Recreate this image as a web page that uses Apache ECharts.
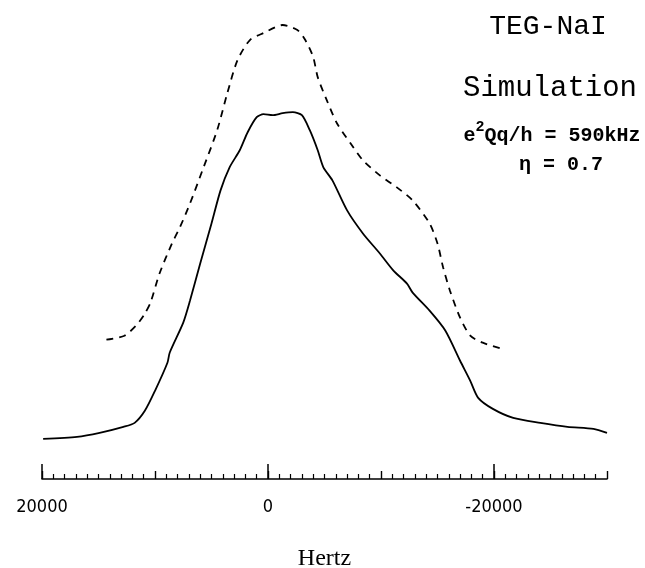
<!DOCTYPE html>
<html>
<head>
<meta charset="utf-8">
<script src="https://cdn.jsdelivr.net/npm/echarts@6/dist/echarts.min.js"></script>
<style>
  html, body { margin: 0; padding: 0; background: #fff; }
  #chart { width: 645px; height: 568px; }
</style>
</head>
<body>
<div id="chart"></div>
<script>
// Frequency offsets (Hz) and intensities (arbitrary units)
const solidHz = [19900, 16900, 14900, 12800, 11800, 10900, 10000, 8900, 8700, 7500, 6900, 6000, 5000, 4200, 3400, 2500, 1800, 1000, 400, -400, -1300, -2200, -3000, -3700, -4400, -4900, -5700, -7000, -8400, -9900, -11100, -12300, -12800, -14300, -15700, -17000, -17900, -18600, -19900, -21700, -24100, -26500, -28800, -30000];
const solidI  = [40, 42, 46, 52, 56, 68, 88, 116, 126, 156, 178, 215, 255, 288, 311, 328, 346, 361, 364, 363, 365, 366, 363, 348, 328, 311, 298, 268, 245, 225, 208, 195, 186, 168, 148, 118, 98, 81, 70, 61, 56, 52, 50, 46];

const dashHz = [14300, 12700, 11600, 10900, 10400, 9600, 8500, 7800, 6900, 5800, 4500, 3600, 2700, 1600, 400, -1300, -2600, -3300, -4000, -4400, -5200, -6100, -7300, -8400, -9900, -11400, -12800, -14300, -15000, -15500, -16100, -17000, -17900, -19000, -20700];
const dashI  = [139, 143, 154, 165, 176, 205, 235, 251, 275, 308, 348, 385, 418, 438, 445, 453, 448, 438, 421, 401, 378, 355, 335, 318, 303, 291, 278, 255, 235, 211, 188, 161, 143, 136, 130];

const majorTicks = [20000, 0, -20000];
const axisMin = -30000, axisMax = 20000;

const solidData = solidHz.map((h, i) => [h, solidI[i]]);
const dashData = dashHz.map((h, i) => [h, dashI[i]]);

const chart = echarts.init(document.getElementById('chart'), null, { renderer: 'canvas' });
const mono = "'Liberation Mono', 'DejaVu Sans Mono', monospace";
chart.setOption({
  animation: false,
  backgroundColor: '#fff',
  grid: { left: 42, right: 38, top: 20, bottom: 89, containLabel: false, outerBoundsMode: 'none' },
  xAxis: [
    {
      type: 'value', position: 'bottom', inverse: true,
      min: axisMin, max: axisMax, interval: 10000,
      splitLine: { show: false },
      axisLine: { show: true, onZero: false, lineStyle: { color: '#000', width: 1.6 } },
      axisTick: { show: true, inside: true, length: 8, lineStyle: { color: '#000', width: 1.4 } },
      minorTick: { show: true, splitNumber: 10, length: 5, lineStyle: { color: '#000', width: 1.2 } },
      axisLabel: {
        show: true, customValues: majorTicks, margin: 19,
        color: '#000', fontSize: 18,
        fontFamily: "'Liberation Sans Narrow', 'DejaVu Sans Condensed', 'Liberation Sans', sans-serif",
        formatter: v => String(v)
      },
      name: 'Hertz', nameLocation: 'middle', nameGap: 68,
      nameTextStyle: { color: '#000', fontSize: 24, fontFamily: "'Liberation Serif', 'DejaVu Serif', serif" }
    },
    {
      type: 'value', position: 'bottom', offset: 0, inverse: true,
      min: axisMin, max: axisMax,
      splitLine: { show: false },
      axisLine: { show: false },
      axisTick: { show: true, inside: true, length: 15, customValues: majorTicks, lineStyle: { color: '#000', width: 1.5 } },
      axisLabel: { show: false }
    }
  ],
  yAxis: { type: 'value', min: 0, max: 458, show: false },
  graphic: [
    { type: 'text', style: { text: 'TEG-NaI', x: 548, y: 41, textAlign: 'center', textVerticalAlign: 'bottom', font: "28px " + mono, fill: '#000' } },
    { type: 'text', style: { text: 'Simulation', x: 550, y: 103, textAlign: 'center', textVerticalAlign: 'bottom', font: "29px " + mono, fill: '#000' } },
    { type: 'text', style: {
        text: '{b|e}{s|2}{b|Qq/h = 590kHz}', x: 552, y: 146, textAlign: 'center', textVerticalAlign: 'bottom', fill: '#000',
        rich: {
          b: { fontFamily: mono, fontSize: 20, fontWeight: 'bold', lineHeight: 26, verticalAlign: 'bottom' },
          s: { fontFamily: mono, fontSize: 15, fontWeight: 'bold', lineHeight: 15, verticalAlign: 'top' }
        }
    } },
    { type: 'text', style: { text: 'η = 0.7', x: 561, y: 175, textAlign: 'center', textVerticalAlign: 'bottom', font: "bold 20px " + mono, fill: '#000' } }
  ],
  series: [
    {
      type: 'line', xAxisIndex: 0, data: solidData, showSymbol: false, smooth: 0.25,
      lineStyle: { color: '#000', width: 1.8 }
    },
    {
      type: 'line', xAxisIndex: 0, data: dashData, showSymbol: false, smooth: 0.25,
      lineStyle: { color: '#000', width: 1.8, type: [7, 6] }
    }
  ]
});
</script>
</body>
</html>
